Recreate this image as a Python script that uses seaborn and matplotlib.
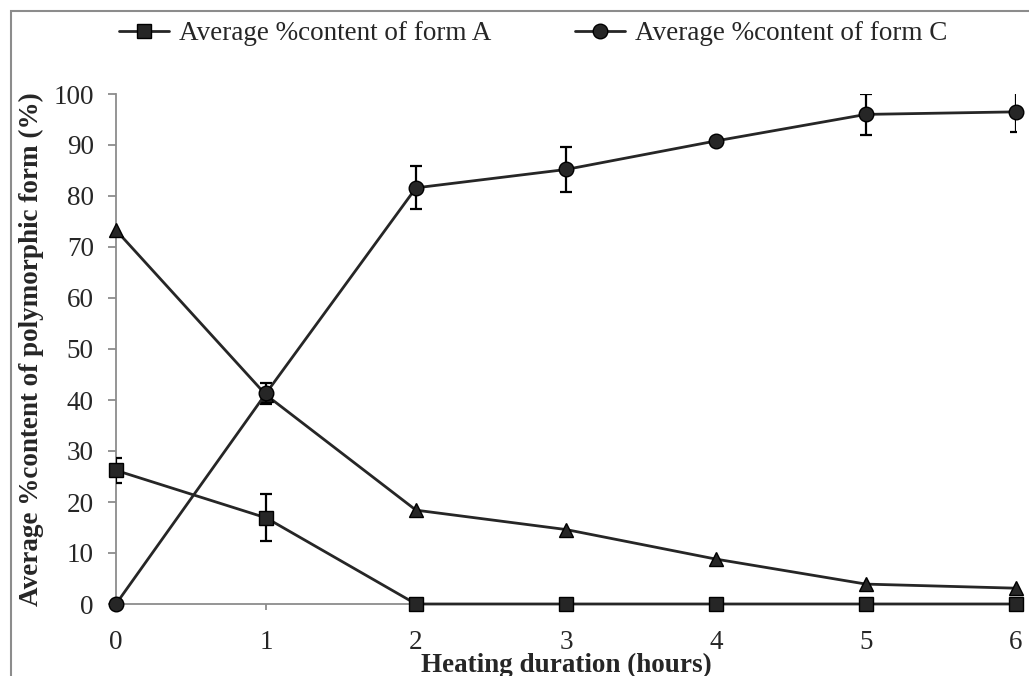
import numpy as np
import pandas as pd
import matplotlib
matplotlib.use("Agg")
import matplotlib.pyplot as plt
import seaborn as sns
from matplotlib.patches import Rectangle
from matplotlib.lines import Line2D

# ---- data ----
hours = [0, 1, 2, 3, 4, 5, 6]
form_a = [26.2, 16.9, 0, 0, 0, 0, 0]
form_a_err = [2.4, 4.6, 0, 0, 0, 0, 0]
form_c = [0, 41.3, 81.6, 85.2, 90.8, 96.0, 96.5]
form_c_err = [0, 2.0, 4.2, 4.4, 0.6, 4.0, 3.9]
form_b = [73.3, 41.0, 18.4, 14.6, 8.8, 3.9, 3.1]
legend_labels = ["Average %content of form A", "Average %content of form C"]
x_label = "Heating duration (hours)"
y_label = "Average %content of polymorphic form (%)"
y_ticks = [0, 10, 20, 30, 40, 50, 60, 70, 80, 90, 100]
x_ticks = [0, 1, 2, 3, 4, 5, 6]

sns.set_style("white")
plt.rcParams["font.family"] = ["Liberation Serif", "DejaVu Serif"]

FS = 19.5
W, H = 1029, 676
fig = plt.figure(figsize=(W / 100, H / 100), dpi=100)
ax = fig.add_axes([116 / W, (H - 604) / H, 900 / W, 510 / H])

line_col = "#262626"
gray = "#8c8c8c"

df = pd.DataFrame({"hours": hours, "A": form_a, "B": form_b, "C": form_c})

# error bars (only non-zero ones)
for vals, errs in [(form_a, form_a_err), (form_c, form_c_err)]:
    xs = [h for h, e in zip(hours, errs) if e > 0]
    ys = [v for v, e in zip(vals, errs) if e > 0]
    es = [e for e in errs if e > 0]
    ax.errorbar(xs, ys, yerr=es, fmt="none", ecolor="black", elinewidth=1.6,
                capsize=4.5, capthick=1.6, zorder=4)

common = dict(color=line_col, linewidth=2.0, markersize=10.5, clip_on=False,
              markeredgecolor="black", markeredgewidth=1.0, ax=ax, legend=False)
sns.lineplot(data=df, x="hours", y="B", marker="^", zorder=3, **common)
sns.lineplot(data=df, x="hours", y="A", marker="s", zorder=5, **common)
sns.lineplot(data=df, x="hours", y="C", marker="o", zorder=5, **common)

ax.set_xlim(0, 6)
ax.set_ylim(0, 100)
ax.set_xticks(x_ticks)
ax.set_yticks(y_ticks)
ax.set_xticklabels([str(t) for t in x_ticks], fontsize=FS)
ax.set_yticklabels([str(t) for t in y_ticks], fontsize=FS)
ax.set_xlabel("")
ax.set_ylabel("")

for s in ["top", "right"]:
    ax.spines[s].set_visible(False)
for s in ["left", "bottom"]:
    ax.spines[s].set_color(gray)
    ax.spines[s].set_linewidth(1.3)
ax.tick_params(axis="y", direction="out", length=6, width=1.3, color=gray,
               pad=10, left=True)
ax.tick_params(axis="x", direction="out", length=4, width=1.3, color=gray,
               pad=14.5, bottom=True)

fig.text(566 / W, (H - 672) / H, x_label, ha="center", va="baseline",
         fontsize=FS, fontweight="bold")
fig.text(31 / W, (H - 349) / H, y_label, ha="center", va="center",
         rotation=90, fontsize=FS, fontweight="bold")

handles = [
    Line2D([0], [0], color=line_col, lw=2.0, marker="s", markersize=10.5,
           markeredgecolor="black"),
    Line2D([0], [0], color=line_col, lw=2.0, marker="o", markersize=10.5,
           markeredgecolor="black"),
]
fig.legend(handles, legend_labels, loc="center", ncol=2,
           bbox_to_anchor=(533 / W, (H - 34) / H), frameon=False,
           fontsize=FS, handlelength=1.85, handletextpad=0.37,
           columnspacing=3.1, borderpad=0.2)

fig.patches.append(Rectangle((11 / W, -0.2), 1.2, 1.2 - 11 / H,
                             transform=fig.transFigure, fill=False,
                             edgecolor=gray, linewidth=1.5))

fig.savefig("out.png", dpi=100, facecolor="white")
